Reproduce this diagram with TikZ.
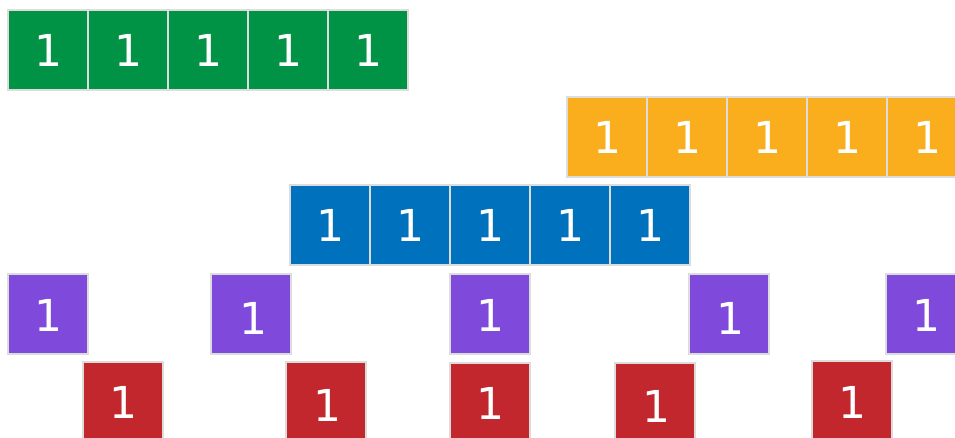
\documentclass[tikz,border=0pt]{standalone}
\usepackage{fontspec}
\setmainfont{DejaVu Sans}
\definecolor{cgreen}{HTML}{009245}
\definecolor{corange}{HTML}{FBAE1D}
\definecolor{cblue}{HTML}{0071BC}
\definecolor{cpurple}{HTML}{7F4ADC}
\definecolor{cred}{HTML}{C1272D}
\definecolor{cborder}{HTML}{DCDCDC}
\begin{document}
\begin{tikzpicture}[x=1pt,y=-1pt,
  cell/.style={draw=cborder,line width=1.5pt,minimum size=80pt,inner sep=0pt,outer sep=0pt,anchor=north west},
  num/.style={text=white,font=\fontsize{44}{44}\selectfont,inner sep=0pt}]
\useasboundingbox (0,0) rectangle (955,437);
\clip (0,0) rectangle (955,437);
% green row
\foreach \i in {0,...,4} {
  \node[cell,fill=cgreen] (g\i) at ({8+80*\i},10) {};
  \node[num] at (g\i.center) {1};
}
% orange row
\foreach \i in {0,...,4} {
  \node[cell,fill=corange] (o\i) at ({567+80*\i},97) {};
  \node[num] at (o\i.center) {1};
}
% blue row
\foreach \i in {0,...,4} {
  \node[cell,fill=cblue] (b\i) at ({290+80*\i},185) {};
  \node[num] at (b\i.center) {1};
}
% purple row
\foreach \n/\x/\y/\dx/\dy in {0/8/274/0/1, 1/211/274/2/4, 2/450/274/0/1, 3/689/274/1/4, 4/886/274/0/1} {
  \node[cell,fill=cpurple] (p\n) at (\x,\y) {};
  \node[num] at ([shift={(\dx,\dy)}]p\n.center) {1};
}
% red row
\foreach \n/\x/\y/\dx/\dy in {0/83/362/0/0, 1/286/362/1/3, 2/450/363/0/0, 3/615/363/1/3, 4/812/361/0/1} {
  \node[cell,fill=cred] (r\n) at (\x,\y) {};
  \node[num] at ([shift={(\dx,\dy)}]r\n.center) {1};
}
\end{tikzpicture}
\end{document}
